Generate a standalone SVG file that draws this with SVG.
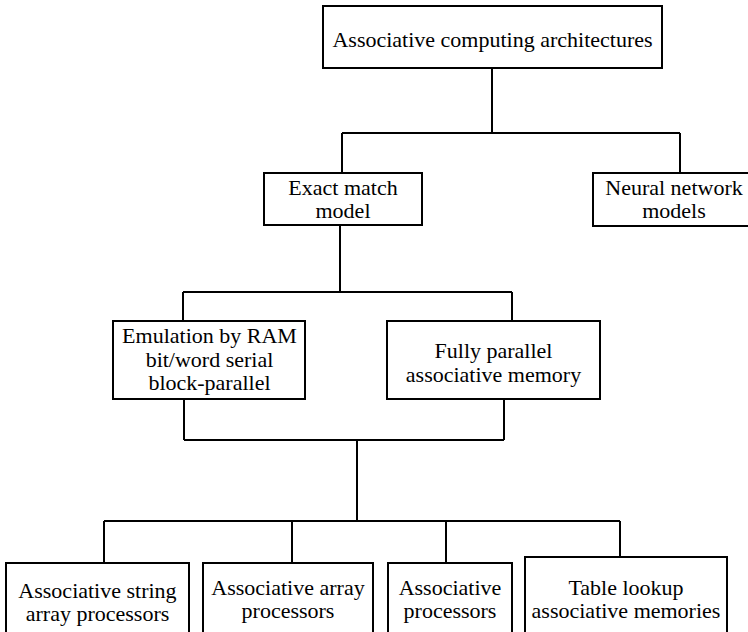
<svg xmlns="http://www.w3.org/2000/svg" width="748" height="632" viewBox="0 0 748 632">
<style>
.box{fill:#fff;stroke:#000;stroke-width:2}
.ln{fill:none;stroke:#000;stroke-width:2}
.t{font-family:'Liberation Serif','Times New Roman','DejaVu Serif',serif;font-size:22px;fill:#000;text-anchor:middle}
</style>
<rect width="748" height="632" fill="#fff"/>
<g id="connectors" class="ln">
<path d="M492 68V133M342 133H680M342 133V173M680 133V173"/>
<path d="M340 225V292M183 292H512M183 292V321M512 292V321"/>
<path d="M184 399V440M504 399V440M184 440H504M357 440V521"/>
<path d="M104 521H620M104 521V563M292 521V563M446 521V563M620 521V557"/>
</g>
<g class="t" font-family="Liberation Serif, serif">
<g id="n-root"><rect class="box" x="323" y="6" width="339" height="62"/><text x="492.5" y="47">Associative computing architectures</text></g>
<g id="n-exact"><rect class="box" x="264" y="173" width="158" height="52"/><text x="343" y="195">Exact match</text><text x="343" y="218">model</text></g>
<g id="n-neural"><rect class="box" x="593" y="173" width="170" height="53"/><text x="674" y="195">Neural network</text><text x="674" y="218">models</text></g>
<g id="n-emulation"><rect class="box" x="113" y="321" width="192" height="78"/><text x="209.5" y="343">Emulation by RAM</text><text x="209.5" y="367">bit/word serial</text><text x="209.5" y="390">block-parallel</text></g>
<g id="n-fully"><rect class="box" x="387" y="321" width="213" height="78"/><text x="493.5" y="358">Fully parallel</text><text x="493.5" y="382">associative memory</text></g>
<g id="n-string"><rect class="box" x="6" y="563" width="183" height="80"/><text x="97.5" y="598">Associative string</text><text x="97.5" y="621">array  processors</text></g>
<g id="n-array"><rect class="box" x="203" y="563" width="170" height="80"/><text x="288" y="595">Associative array</text><text x="288" y="618">processors</text></g>
<g id="n-proc"><rect class="box" x="388" y="563" width="124" height="80"/><text x="450" y="595">Associative</text><text x="450" y="618">processors</text></g>
<g id="n-table"><rect class="box" x="525" y="557" width="202" height="86"/><text x="626" y="595">Table lookup</text><text x="626" y="618">associative memories</text></g>
</g>
</svg>
